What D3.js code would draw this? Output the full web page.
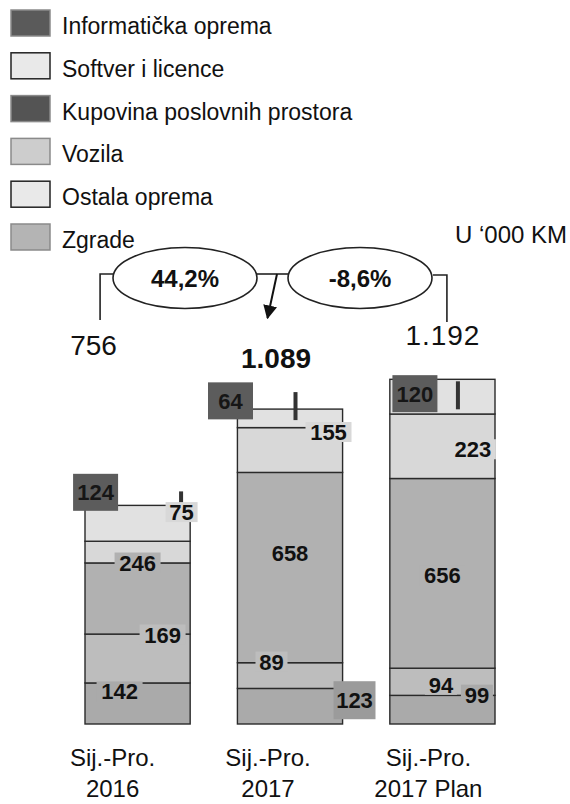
<!DOCTYPE html>
<html>
<head>
<meta charset="utf-8">
<script src="https://cdn.jsdelivr.net/npm/d3@7"></script>
<style>
body { margin: 0; background: #fff; }
svg { display: block; }
text { font-family: "Liberation Sans", Arial, sans-serif; fill: #111; }
</style>
</head>
<body>
<div id="chart"></div>
<script>
// data (U '000 KM)
let periods = ["Sij.-Pro. 2016", "Sij.-Pro. 2017", "Sij.-Pro. 2017 Plan"]
let periodLines = [["Sij.-Pro.", "2016"], ["Sij.-Pro.", "2017"], ["Sij.-Pro.", "2017 Plan"]]
let seriesNames = ["Informatička oprema", "Softver i licence", "Kupovina poslovnih prostora", "Vozila", "Ostala oprema", "Zgrade"]
let informaticka = [124, 64, 120]
let softver = [75, 155, 223]
let kupovina = [0, 0, 0]
let vozila = [246, 658, 656]
let ostala = [169, 89, 94]
let zgrade = [142, 123, 99]
let totalLabels = ["756", "1.089", "1.192"]
let changes = ["44,2%", "-8,6%"]
let unitLabel = "U \u2018000 KM"

function drawChart() {
    let width = 570
    let height = 804

    let svg = d3.select("#chart").append("svg")
        .attr("width", width)
        .attr("height", height)

    let valuesBySeries = {
        "Informatička oprema": informaticka,
        "Softver i licence": softver,
        "Kupovina poslovnih prostora": kupovina,
        "Vozila": vozila,
        "Ostala oprema": ostala,
        "Zgrade": zgrade
    }

    let table = periods.map((p, i) => {
        let row = { period: p }
        seriesNames.forEach(s => row[s] = valuesBySeries[s][i])
        return row
    })

    // stacked bottom -> top is the legend read upwards
    let stackKeys = seriesNames.slice().reverse()
    let layers = d3.stack().keys(stackKeys)(table)

    let xscale = d3.scaleBand()
        .domain(periods)
        .range([85, 495])
        .paddingInner(0.31)
        .paddingOuter(0)

    let yscale = d3.scaleLinear()
        .domain([0, 1200])
        .range([724, 377])

    let segFill = {
        "Informatička oprema": "#e1e1e1",
        "Softver i licence": "#d8d8d8",
        "Kupovina poslovnih prostora": "#4a4a4a",
        "Vozila": "#b1b1b1",
        "Ostala oprema": "#bdbdbd",
        "Zgrade": "#aaaaaa"
    }
    let legendFill = ["#5a5a5a", "#e9e9e9", "#545454", "#cdcdcd", "#e9e9e9", "#b4b4b4"]

    // ---- legend
    let legend = svg.append("g")
    seriesNames.forEach((s, i) => {
        let top = 10 + i * 42.8
        legend.append("rect")
            .attr("x", 11).attr("y", top)
            .attr("width", 39).attr("height", 26)
            .attr("fill", legendFill[i])
            .attr("stroke", legendFill[i] == "#e9e9e9" ? "#222" : "#8a8a8a")
            .attr("stroke-width", 1.5)
        legend.append("text")
            .attr("x", 62).attr("y", top + 24)
            .style("font-size", "23px")
            .text(s)
    })

    svg.append("text")
        .attr("x", 567).attr("y", 243)
        .attr("text-anchor", "end")
        .style("font-size", "24px")
        .text(unitLabel)

    // ---- bars
    let bars = svg.append("g")
    layers.forEach(layer => {
        let name = layer.key
        if (name == "Kupovina poslovnih prostora") return
        bars.selectAll(null)
            .data(layer)
            .enter().append("rect")
            .attr("x", d => xscale(d.data.period))
            .attr("y", d => yscale(d[1]))
            .attr("width", xscale.bandwidth())
            .attr("height", d => yscale(d[0]) - yscale(d[1]))
            .attr("fill", segFill[name])
            .attr("stroke", "#2a2a2a")
            .attr("stroke-width", 1.4)
    })

    // small dark dash of "Kupovina poslovnih prostora" at the top of each stack
    let dashPos = [[43.5, -14, 15], [5.5, -17, 28], [15.5, 2, 28]]
    let kupLayer = layers.find(l => l.key == "Kupovina poslovnih prostora")
    let infoLayer = layers.find(l => l.key == "Informatička oprema")
    kupLayer.forEach((d, i) => {
        let cx = xscale(d.data.period) + xscale.bandwidth() / 2
        let top = yscale(infoLayer[i][1])
        bars.append("rect")
            .attr("x", cx + dashPos[i][0] - 2)
            .attr("y", top + dashPos[i][1])
            .attr("width", 4)
            .attr("height", dashPos[i][2])
            .attr("fill", "#333")
    })

    // ---- value labels, offsets from each segment's centre
    let labelPos = {
        "Zgrade": [[-18, -12], [64.5, -6], [34.5, -15]],
        "Ostala oprema": [[25, -24], [-18.5, -14], [-1.5, 3]],
        "Vozila": [[0, -36], [0, -15], [0, 2]],
        "Softver i licence": [[44, -40], [38.5, -18], [30.5, 3]],
        "Informatička oprema": [[-42, -31], [-59.5, -17.5], [-27.5, -3]]
    }
    let labels = svg.append("g")
    layers.forEach(layer => {
        let name = layer.key
        if (!labelPos[name]) return
        layer.forEach((d, i) => {
            let cx = xscale(d.data.period) + xscale.bandwidth() / 2 + labelPos[name][i][0]
            let cy = (yscale(d[0]) + yscale(d[1])) / 2 + labelPos[name][i][1]
            let v = d[1] - d[0]
            let g = labels.append("g")
            let boxW = 14 * String(v).length + 4
            let boxH = 20
            let bg = segFill[name]
            if (name == "Informatička oprema") { boxW = 45; boxH = 37; bg = "#5c5c5c" }
            if (name == "Zgrade" && i == 1) { boxW = 42; boxH = 38; bg = "#9b9b9b" }
            g.append("rect")
                .attr("x", cx - boxW / 2).attr("y", cy - boxH / 2)
                .attr("width", boxW).attr("height", boxH)
                .attr("fill", bg)
            g.append("text")
                .attr("x", cx).attr("y", cy + 8)
                .attr("text-anchor", "middle")
                .style("font-size", "22px")
                .style("font-weight", "bold")
                .style("fill", bg == "#5c5c5c" ? "#161616" : "#111")
                .text(v)
        })
    })

    // ---- category labels
    let catDx = [-25, -22, -14]
    periods.forEach((p, i) => {
        let cx = xscale(p) + xscale.bandwidth() / 2 + catDx[i]
        svg.append("text")
            .attr("x", cx).attr("y", 766)
            .attr("text-anchor", "middle")
            .style("font-size", "24px")
            .text(periodLines[i][0])
        svg.append("text")
            .attr("x", cx).attr("y", 797)
            .attr("text-anchor", "middle")
            .style("font-size", "24px")
            .text(periodLines[i][1])
    })

    // ---- totals
    let totalPos = [[-44, 355, "normal", 0], [-14, 368, "bold", 0], [0.5, 345, "normal", 1]]
    periods.forEach((p, i) => {
        let cx = xscale(p) + xscale.bandwidth() / 2 + totalPos[i][0]
        svg.append("text")
            .attr("x", cx).attr("y", totalPos[i][1])
            .attr("text-anchor", "middle")
            .style("font-size", "28px")
            .style("font-weight", totalPos[i][2])
            .style("letter-spacing", totalPos[i][3] + "px")
            .text(totalLabels[i])
    })

    // ---- growth bubbles
    let ann = svg.append("g")
        .attr("fill", "none")
        .attr("stroke", "#222")
        .attr("stroke-width", 1.6)

    let c1 = xscale(periods[0]) + xscale.bandwidth() / 2
    let c3 = xscale(periods[2]) + xscale.bandwidth() / 2
    let ellipses = [[185, 278], [360, 278]]

    ann.append("path").attr("d", "M" + (c1 - 37.5) + ",320 V274 H113")
    ann.append("path").attr("d", "M257,274 H288")
    ann.append("path").attr("d", "M433,275 H" + (c3 + 4.5) + " V322")
    ellipses.forEach((e, i) => {
        ann.append("ellipse")
            .attr("cx", e[0]).attr("cy", e[1])
            .attr("rx", 72).attr("ry", 30.5)
            .attr("fill", "#fff")
        svg.append("text")
            .attr("x", e[0]).attr("y", 287)
            .attr("text-anchor", "middle")
            .style("font-size", "24px")
            .style("font-weight", "bold")
            .text(changes[i])
    })

    // arrow down to the 2017 total
    svg.append("defs").append("marker")
        .attr("id", "arrow")
        .attr("viewBox", "0 0 10 10")
        .attr("refX", 9).attr("refY", 5)
        .attr("markerWidth", 7).attr("markerHeight", 7)
        .attr("markerUnits", "strokeWidth")
        .attr("orient", "auto")
        .append("path").attr("d", "M0,0 L10,5 L0,10 z").attr("fill", "#111")
    svg.append("line")
        .attr("x1", 277).attr("y1", 274)
        .attr("x2", 267.5).attr("y2", 318)
        .attr("stroke", "#111")
        .attr("stroke-width", 2)
        .attr("marker-end", "url(#arrow)")
}

drawChart()
</script>
</body>
</html>
